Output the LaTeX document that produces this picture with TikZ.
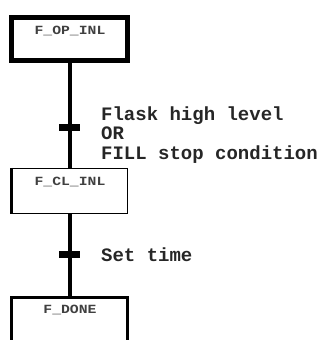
\documentclass[tikz,border=0pt]{standalone}
\usepackage{fontspec}
\setmonofont{Liberation Mono}
\begin{document}
\begin{tikzpicture}[x=1bp,y=-1bp,
  stepbox/.style={draw, inner sep=0, minimum width=115bp},
  stepname/.style={font=\ttfamily\bfseries\fontsize{12.5bp}{13bp}\selectfont, text=black!75, inner sep=0},
  link/.style={line width=4bp},
  transbar/.style={fill=black, draw=none, inner sep=0, minimum width=21bp, minimum height=7bp},
  cond/.style={font=\ttfamily\bfseries\fontsize{19bp}{19.5bp}\selectfont, text=black!85, inner sep=0, align=left}]
\useasboundingbox (0,0) rectangle (321,340);
\clip (0,0) rectangle (321,340);

% steps
\node[stepbox, line width=5bp, minimum height=43bp] (s1) at (69.5,39) {};
\node[stepbox, line width=1.5bp, minimum width=116bp, minimum height=45bp] (s2) at (69.5,191) {};
\draw[line width=3.5bp] ([xshift=1bp]s2.north west) -- ([xshift=1bp]s2.south west);
\node[stepbox, line width=3bp, minimum height=50bp] (s3) at (69.5,322.5) {};

\node[stepname] (n1) at (70,31) {\scalebox{1.18}[1]{F\_OP\_INL}};
\node[stepname] (n2) at (70,182) {\scalebox{1.18}[1]{F\_CL\_INL}};
\node[stepname] (n3) at (70,309.5) {\scalebox{1.18}[1]{F\_DONE}};

% links between steps
\draw[link] (s1.south) -- (s2.north);
\draw[link] (s2.south) -- (s3.north);

% transitions
\node[transbar] (t1) at (69.5,127.5) {};
\node[transbar] (t2) at (69.5,254.5) {};

\node[cond, anchor=north west] (c1) at (101,106.5) {Flask high level\\OR\\FILL stop condition};
\node[cond, anchor=base west] (c2) at (101,261) {Set time};
\end{tikzpicture}
\end{document}
